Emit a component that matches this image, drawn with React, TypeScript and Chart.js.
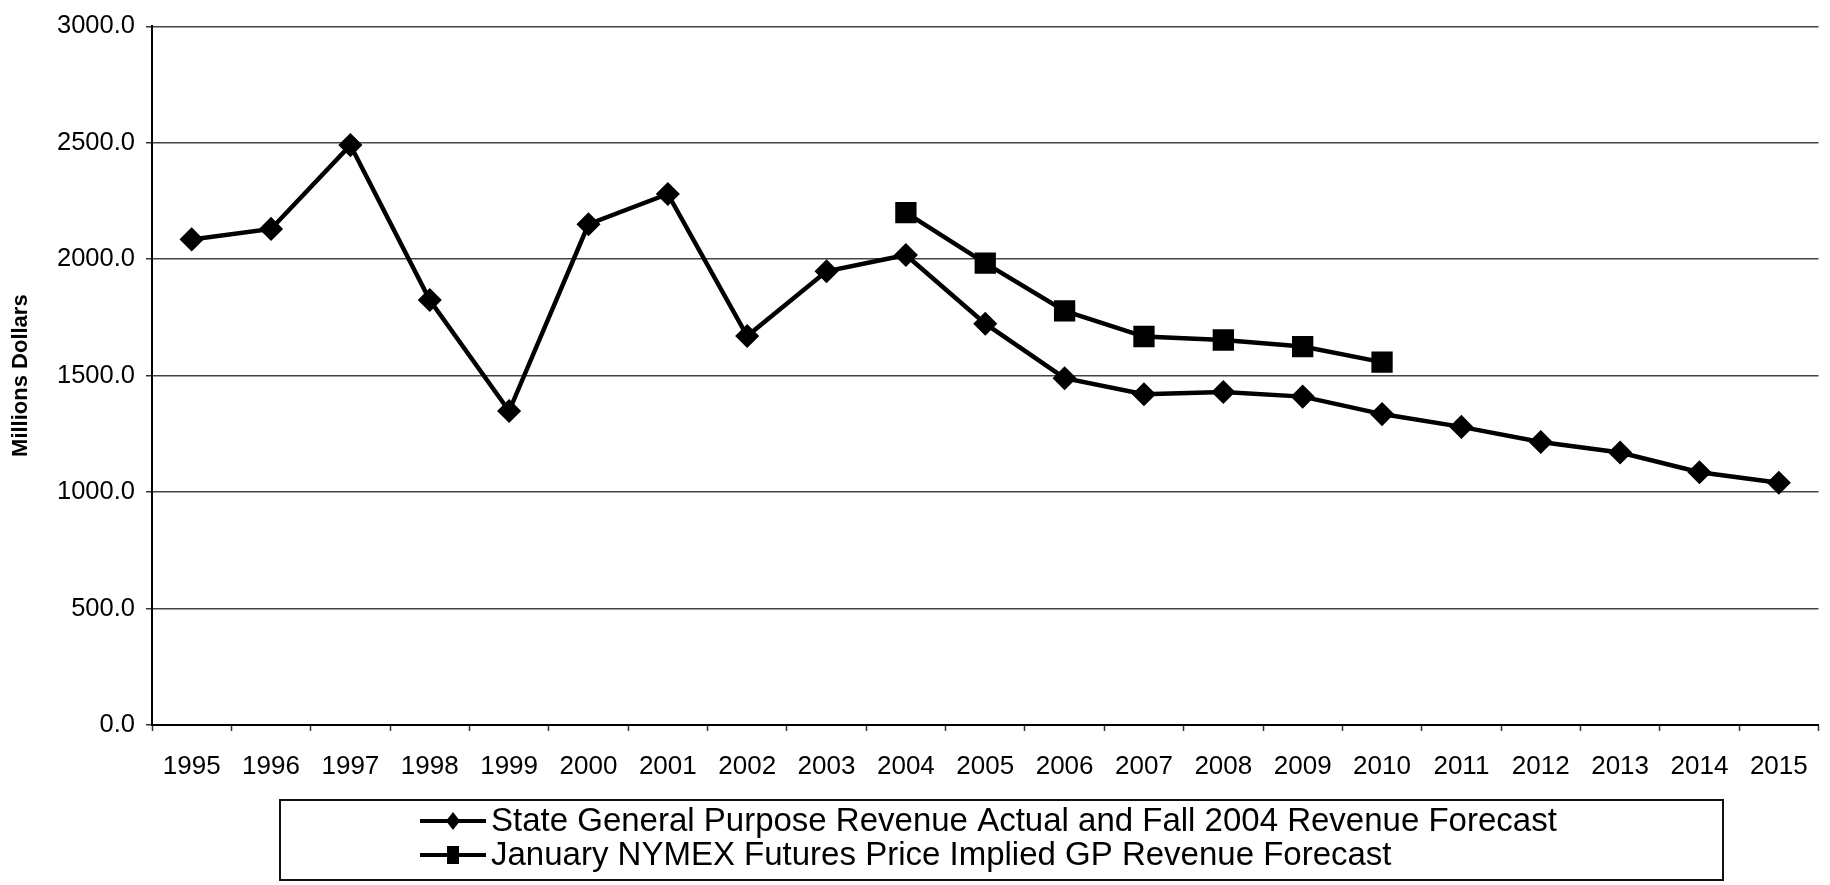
import React, { useEffect, useRef } from "react";
import { Chart, registerables } from "chart.js";

Chart.register(...registerables);

const years = [
  "1995", "1996", "1997", "1998", "1999", "2000", "2001", "2002", "2003", "2004",
  "2005", "2006", "2007", "2008", "2009", "2010", "2011", "2012", "2013", "2014", "2015",
];

const stateRevenue = [
  2085, 2130, 2490, 1825, 1348, 2150, 2280, 1670, 1948, 2018,
  1723, 1489, 1420, 1430, 1410, 1335, 1280, 1215, 1170, 1085, 1040,
];

const nymexForecast = [
  null, null, null, null, null, null, null, null, null, 2200,
  1983, 1778, 1668, 1653, 1625, 1558, null, null, null, null, null,
];

const seriesLabels = [
  "State General Purpose Revenue Actual and Fall 2004 Revenue Forecast",
  "January NYMEX Futures Price Implied GP Revenue Forecast",
];

const yTitle = "Millions Dollars";
const yMin = 0;
const yMax = 3000;
const yStep = 500;

const FONT = '"Liberation Sans", Arial, Helvetica, sans-serif';

const boxLegend = {
  id: "boxLegend",
  afterDraw(chart: any) {
    const ctx = chart.ctx as CanvasRenderingContext2D;
    ctx.save();
    ctx.strokeStyle = "#111";
    ctx.lineWidth = 2;
    ctx.strokeRect(280, 800, 1443, 80);
    chart.data.datasets.forEach((ds: any, i: number) => {
      const y = 821 + i * 34;
      ctx.beginPath();
      ctx.moveTo(420, y);
      ctx.lineTo(486, y);
      ctx.lineWidth = 4;
      ctx.strokeStyle = "#000";
      ctx.stroke();
      ctx.fillStyle = "#000";
      const cx = 453;
      ctx.beginPath();
      if (ds.pointStyle === "rectRot") {
        ctx.moveTo(cx - 7, y);
        ctx.lineTo(cx, y - 9);
        ctx.lineTo(cx + 7, y);
        ctx.lineTo(cx, y + 9);
        ctx.closePath();
      } else {
        ctx.rect(cx - 6, y - 9, 12, 18);
      }
      ctx.fill();
      ctx.font = `33px ${FONT}`;
      ctx.fillStyle = "#000";
      ctx.textBaseline = "middle";
      ctx.textAlign = "left";
      ctx.fillText(ds.label, 491, y + 1);
    });
    ctx.restore();
  },
};

export default function App() {
  const ref = useRef<HTMLCanvasElement | null>(null);

  useEffect(() => {
    if (!ref.current) return;
    const chart = new Chart(ref.current, {
      type: "line",
      data: {
        labels: years,
        datasets: [
          {
            label: seriesLabels[0],
            data: stateRevenue,
            borderColor: "#000",
            backgroundColor: "#000",
            borderWidth: 4.5,
            pointStyle: "rectRot",
            pointRadius: 11,
            pointBorderWidth: 1.5,
            pointBackgroundColor: "#000",
            pointBorderColor: "#000",
            tension: 0,
            spanGaps: false,
          },
          {
            label: seriesLabels[1],
            data: nymexForecast,
            borderColor: "#000",
            backgroundColor: "#000",
            borderWidth: 4.5,
            pointStyle: "rect",
            pointRadius: 14,
            pointBorderWidth: 1.5,
            pointBackgroundColor: "#000",
            pointBorderColor: "#000",
            tension: 0,
            spanGaps: false,
          },
        ],
      },
      options: {
        responsive: false,
        animation: false,
        devicePixelRatio: 1,
        layout: { padding: { left: 0, top: 24, right: 2, bottom: 100 } },
        plugins: {
          legend: { display: false },
          tooltip: { enabled: false },
          title: { display: false },
        },
        scales: {
          x: {
            type: "category",
            offset: true,
            afterFit: (scale: any) => {
              scale.height = 60;
            },
            grid: {
              display: true,
              drawOnChartArea: false,
              drawTicks: true,
              tickLength: 6,
              offset: true,
              tickColor: "#333",
              tickWidth: 1.5,
            },
            border: { display: true, color: "#000", width: 2 },
            ticks: {
              color: "#000",
              font: { family: FONT, size: 26 },
              padding: 20,
              maxRotation: 0,
              autoSkip: false,
            },
          },
          y: {
            min: yMin,
            max: yMax,
            afterFit: (scale: any) => {
              scale.width = 152;
            },
            grid: {
              color: "#444",
              lineWidth: 1.5,
              drawTicks: true,
              tickLength: 6,
              tickColor: "#333",
            },
            border: { display: true, color: "#000", width: 2 },
            ticks: {
              stepSize: yStep,
              color: "#000",
              font: { family: FONT, size: 25.5 },
              padding: 11,
              callback: (v: any) => Number(v).toFixed(1),
            },
            title: {
              display: true,
              text: yTitle,
              color: "#000",
              font: { family: FONT, size: 22, weight: "bold" },
              padding: { top: 8, bottom: 0 },
            },
          },
        },
      },
      plugins: [boxLegend],
    });
    return () => chart.destroy();
  }, []);

  return (
    <div
      style={{
        position: "fixed",
        left: 0,
        top: 0,
        width: 1830,
        height: 885,
        overflow: "hidden",
        background: "#fff",
      }}
    >
      <canvas ref={ref} width={1834} height={885} style={{ width: 1834, height: 885, display: "block" }} />
    </div>
  );
}
